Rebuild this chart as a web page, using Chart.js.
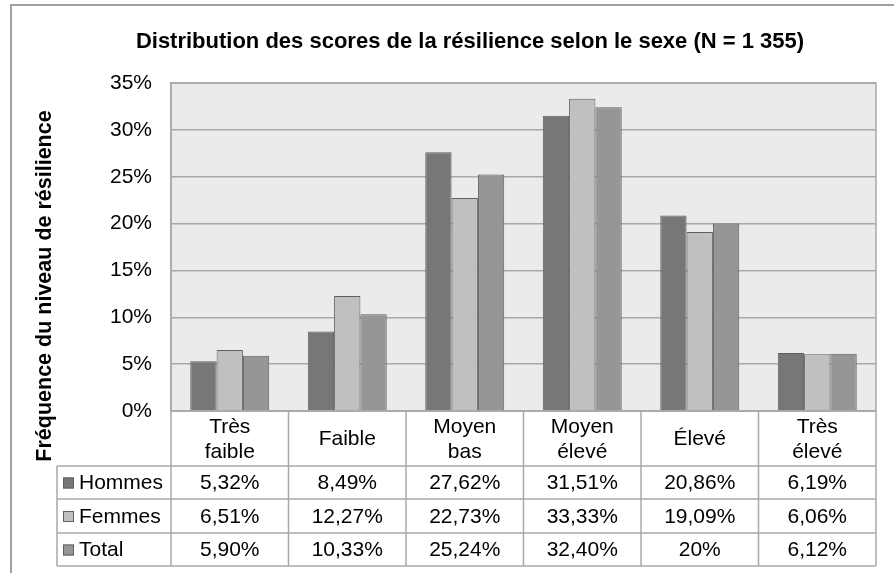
<!DOCTYPE html>
<html>
<head>
<meta charset="utf-8">
<script src="https://cdn.jsdelivr.net/npm/chart.js@4/dist/chart.umd.min.js"></script>
<style>
  html, body { margin: 0; padding: 0; background: #fff; }
  #wrap { width: 894px; height: 573px; position: relative; }
</style>
</head>
<body>
<div id="wrap"><canvas id="chart" width="894" height="573"></canvas></div>
<script>
// données
const categories = [['Très', 'faible'], ['Faible'], ['Moyen', 'bas'], ['Moyen', 'élevé'], ['Élevé'], ['Très', 'élevé']];
const hommes = [5.32, 8.49, 27.62, 31.51, 20.86, 6.19];
const femmes = [6.51, 12.27, 22.73, 33.33, 19.09, 6.06];
const total = [5.90, 10.33, 25.24, 32.40, 20, 6.12];
const yTicks = [0, 5, 10, 15, 20, 25, 30, 35];

const TITRE = 'Distribution des scores de la résilience selon le sexe (N = 1 355)';
const TITRE_Y = 'Fréquence du niveau de résilience';
const FONT = '"Liberation Sans", Arial, sans-serif';
const GRID = '#a9a9a9';
const series = [
  { label: 'Hommes', data: hommes, color: '#777777' },
  { label: 'Femmes', data: femmes, color: '#c0c0c0' },
  { label: 'Total', data: total, color: '#969696' }
];

function fmt(v) {
  if (Number.isInteger(v)) return v + '%';
  return v.toFixed(2).replace('.', ',') + '%';
}

// fond de la zone de tracé + cadre extérieur + titre
const fondPlugin = {
  id: 'fond',
  beforeDraw(chart) {
    const { ctx, chartArea: a } = chart;
    ctx.save();
    ctx.strokeStyle = '#a0a0a0';
    ctx.lineWidth = 2;
    ctx.beginPath();
    ctx.moveTo(11, 573);
    ctx.lineTo(11, 5);
    ctx.lineTo(894, 5);
    ctx.stroke();
    ctx.fillStyle = '#ebebeb';
    ctx.fillRect(a.left, a.top, a.right - a.left, a.bottom - a.top);

    ctx.fillStyle = '#000';
    ctx.font = 'bold 22px ' + FONT;
    ctx.textAlign = 'center';
    ctx.textBaseline = 'middle';
    ctx.fillText(TITRE, 470, 42);
    ctx.restore();
  }
};

// table de données sous le graphique + titre vertical
const tablePlugin = {
  id: 'tableau',
  afterDraw(chart) {
    const { ctx, chartArea: a } = chart;
    const x = chart.scales.x;
    const colW = (a.right - a.left) / categories.length;
    const rows = [a.bottom, 466, 499, 533, 566];
    const legLeft = 57;

    ctx.save();
    // cadre de la zone de tracé
    ctx.strokeStyle = GRID;
    ctx.lineWidth = 1.5;
    ctx.strokeRect(a.left, a.top, a.right - a.left, a.bottom - a.top);

    // lignes de la table
    ctx.beginPath();
    for (let r = 1; r < rows.length; r++) {
      ctx.moveTo(legLeft, rows[r]);
      ctx.lineTo(a.right, rows[r]);
    }
    ctx.moveTo(a.left, rows[0]);
    ctx.lineTo(a.right, rows[0]);
    ctx.moveTo(legLeft, rows[1]);
    ctx.lineTo(legLeft, rows[4]);
    for (let i = 0; i <= categories.length; i++) {
      const cx = a.left + i * colW;
      ctx.moveTo(cx, rows[0]);
      ctx.lineTo(cx, rows[4]);
    }
    ctx.stroke();

    ctx.fillStyle = '#000';
    ctx.font = '21px ' + FONT;
    ctx.textAlign = 'center';
    ctx.textBaseline = 'middle';
    categories.forEach((lines, i) => {
      const cx = x.getPixelForValue(i);
      const mid = (rows[0] + rows[1]) / 2 + 1;
      lines.forEach((t, k) => {
        ctx.fillText(t, cx, mid + (k - (lines.length - 1) / 2) * 25);
      });
    });

    series.forEach((s, r) => {
      const mid = (rows[r + 1] + rows[r + 2]) / 2 + 1;
      ctx.fillStyle = s.color;
      ctx.fillRect(63, mid - 6, 11, 11);
      ctx.strokeStyle = '#606060';
      ctx.lineWidth = 1;
      ctx.strokeRect(63.5, mid - 5.5, 10, 10);
      ctx.fillStyle = '#000';
      ctx.textAlign = 'left';
      ctx.fillText(s.label, 79, mid);
      ctx.textAlign = 'center';
      s.data.forEach((v, i) => ctx.fillText(fmt(v), x.getPixelForValue(i), mid));
    });

    // titre de l'axe vertical
    ctx.translate(45, 286);
    ctx.rotate(-Math.PI / 2);
    ctx.font = 'bold 21.5px ' + FONT;
    ctx.fillText(TITRE_Y, 0, 0);
    ctx.restore();
  }
};

new Chart(document.getElementById('chart'), {
  type: 'bar',
  data: {
    labels: categories.map(c => c.join(' ')),
    datasets: series.map(s => ({
      label: s.label,
      data: s.data,
      backgroundColor: s.color,
      borderColor: '#5e5e5e',
      borderWidth: 1,
      categoryPercentage: 0.672,
      barPercentage: 1
    }))
  },
  options: {
    responsive: false,
    animation: false,
    devicePixelRatio: 1,
    layout: { padding: { left: 0, right: 18, top: 83, bottom: 162 } },
    plugins: {
      legend: { display: false },
      tooltip: { enabled: false },
      title: { display: false }
    },
    scales: {
      x: { display: false },
      y: {
        min: 0,
        max: 35,
        afterFit(s) { s.width = 171; },
        afterBuildTicks(s) { s.ticks = yTicks.map(v => ({ value: v })); },
        ticks: {
          padding: 19,
          color: '#000',
          font: { family: FONT, size: 21 },
          callback: v => v + '%'
        },
        grid: { color: GRID, lineWidth: 1.5, drawTicks: false },
        border: { display: true, color: GRID, width: 1.5 }
      }
    }
  },
  plugins: [fondPlugin, tablePlugin]
});
</script>
</body>
</html>
